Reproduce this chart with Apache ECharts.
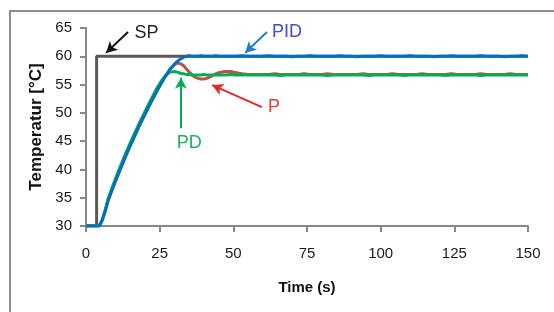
<!DOCTYPE html>
<html>
<head>
<meta charset="utf-8">
<script src="https://cdn.jsdelivr.net/npm/echarts@6/dist/echarts.min.js"></script>
<style>
  html, body { margin: 0; padding: 0; background: #fff; }
  #chart { width: 554px; height: 312px; }
</style>
</head>
<body>
<div id="chart"></div>
<script>
// setpoint step
const spTime = [0, 3.6, 3.6, 150];
const spValues = [30, 30, 60, 60];

// heating ramp (s)
const riseTime = [0, 4.5, 5.5, 6.5, 7.5, 9, 10.5, 12, 13.5, 15, 16.5, 18, 19.5, 21, 22.5, 24, 25.5, 27, 28.5, 30, 31, 32, 33, 34, 35];
const pidRise = [30, 30, 31, 32.6, 34.5, 36.6, 38.6, 40.5, 42.4, 44.2, 45.9, 47.6, 49.2, 50.8, 52.3, 53.8, 55.2, 56.5, 57.7, 58.6, 59.1, 59.5, 59.8, 60, 60.1];
const pRise = [30, 30, 31, 32.6, 34.5, 36.6, 38.6, 40.5, 42.4, 44.2, 45.9, 47.6, 49.2, 50.8, 52.3, 53.8, 55.2, 56.5, 57.7, 58.5, 58.8, 58.7, 58.4, 57.8, 57.2];
const pdRise = [30, 30, 31.1, 32.8, 34.8, 37, 39, 41, 42.9, 44.7, 46.4, 48.1, 49.7, 51.3, 52.8, 54.3, 55.6, 56.6, 57.2, 57.3, 57.2, 57.0, 56.9, 56.8, 56.8];

// settling, where P still oscillates
const settleTime = [36, 37, 38, 39, 40, 41, 42, 43, 44, 45, 47, 49, 51, 53, 55];
const pidSettle = [60.0, 60.0, 60.0, 60.1, 60.0, 60.0, 60.0, 60.0, 60.1, 60.0, 60.0, 60.0, 60.0, 60.1, 60.0];
const pSettle = [56.7, 56.3, 56.1, 56.0, 56.0, 56.1, 56.3, 56.6, 56.9, 57.1, 57.3, 57.3, 57.1, 56.9, 56.8];
const pdSettle = [56.7, 56.7, 56.7, 56.7, 56.8, 56.7, 56.7, 56.7, 56.7, 56.7, 56.7, 56.8, 56.7, 56.7, 56.7];

// steady state
const flatTime = [58, 60, 62, 64, 66, 68, 70, 72, 74, 76, 78, 80, 82, 84, 86, 88, 90, 92, 94, 96, 98, 100, 102, 104, 106, 108, 110, 112, 114, 116, 118, 120, 122, 124, 126, 128, 130, 132, 134, 136, 138, 140, 142, 144, 146, 148, 150];
const pidFlat = [60.0, 60.0, 60.1, 60.0, 60.0, 60.0, 59.9, 60.0, 60.0, 60.1,
                 60.0, 60.0, 60.0, 60.0, 60.1, 60.0, 60.0, 59.9, 60.0, 60.0,
                 60.0, 60.1, 60.0, 60.0, 60.0, 60.0, 60.1, 60.0, 60.0, 60.0,
                 59.9, 60.0, 60.0, 60.1, 60.0, 60.0, 60.0, 60.0, 60.1, 60.0,
                 60.0, 60.0, 59.9, 60.0, 60.0, 60.1, 60.0];
const pFlat = [56.8, 56.8, 56.8, 56.9, 56.8, 56.8, 56.8, 56.8, 56.9, 56.8,
               56.8, 56.8, 56.9, 56.8, 56.8, 56.8, 56.8, 56.8, 56.9, 56.8,
               56.8, 56.8, 56.8, 56.9, 56.8, 56.8, 56.8, 56.8, 56.9, 56.8,
               56.8, 56.8, 56.8, 56.9, 56.8, 56.8, 56.8, 56.8, 56.9, 56.8,
               56.8, 56.8, 56.8, 56.9, 56.8, 56.8, 56.8];
const pdFlat = [56.7, 56.7, 56.7, 56.7, 56.6, 56.7, 56.7, 56.7, 56.7, 56.7,
                56.7, 56.7, 56.6, 56.7, 56.7, 56.7, 56.7, 56.7, 56.7, 56.6,
                56.7, 56.7, 56.7, 56.7, 56.7, 56.6, 56.7, 56.7, 56.7, 56.7,
                56.7, 56.7, 56.6, 56.7, 56.7, 56.7, 56.7, 56.7, 56.6, 56.7,
                56.7, 56.7, 56.7, 56.7, 56.7, 56.7, 56.7];

function zip(t, v) {
  return t.map((x, i) => [x, v[i]]);
}

const pidData = zip(riseTime, pidRise).concat(zip(settleTime, pidSettle), zip(flatTime, pidFlat));
const pData = zip(riseTime, pRise).concat(zip(settleTime, pSettle), zip(flatTime, pFlat));
const pdData = zip(riseTime, pdRise).concat(zip(settleTime, pdSettle), zip(flatTime, pdFlat));
const spData = zip(spTime, spValues);

const FONT = 'Liberation Sans, Arial, sans-serif';

function arrow(from, to, color) {
  return {
    silent: true,
    symbol: ['none', 'arrow'],
    symbolSize: [9, 11],
    label: { show: false },
    lineStyle: { type: 'solid', color: color, width: 2 },
    data: [[{ coord: from }, { coord: to }]]
  };
}
function note(text, at, color) {
  return {
    silent: true,
    symbol: 'circle',
    symbolSize: 1,
    itemStyle: { color: 'rgba(0,0,0,0)' },
    label: { show: true, position: 'inside', formatter: text, color: color, fontSize: 18, fontFamily: FONT },
    data: [{ coord: at }]
  };
}

const chart = echarts.init(document.getElementById('chart'));
chart.setOption({
  animation: false,
  backgroundColor: '#fff',
  graphic: [{
    type: 'rect',
    shape: { x: 10, y: 11, width: 600, height: 400 },
    style: { fill: 'none', stroke: '#8f8f8f', lineWidth: 2 },
    silent: true
  }],
  grid: { left: 86, right: 26, top: 28, bottom: 86 },
  xAxis: {
    type: 'value',
    min: 0, max: 150, interval: 25,
    name: 'Time (s)',
    nameLocation: 'middle',
    nameGap: 54,
    nameTextStyle: { fontFamily: FONT, fontSize: 15, fontWeight: 'bold', color: '#111' },
    axisLine: { show: true, lineStyle: { color: '#878787', width: 2 } },
    axisTick: { show: true, length: 6, lineStyle: { color: '#878787', width: 2 } },
    axisLabel: { margin: 20, fontFamily: FONT, fontSize: 15, color: '#1a1a1a' },
    splitLine: { show: false }
  },
  yAxis: {
    type: 'value',
    min: 30, max: 65, interval: 5,
    name: 'Temperatur [°C]',
    nameLocation: 'middle',
    nameGap: 40,
    nameTextStyle: { fontFamily: FONT, fontSize: 17, fontWeight: 'bold', color: '#111' },
    axisLine: { show: true, lineStyle: { color: '#878787', width: 2 } },
    axisTick: { show: true, length: 6, lineStyle: { color: '#878787', width: 2 } },
    axisLabel: { margin: 14, fontFamily: FONT, fontSize: 15, color: '#1a1a1a' },
    splitLine: { show: false }
  },
  series: [
    {
      name: 'SP', type: 'line', data: spData, symbol: 'none',
      lineStyle: { color: '#595959', width: 3 }, itemStyle: { color: '#595959' },
      markLine: arrow([14.25, 64.3], [6.8, 60.6], '#111'),
      markPoint: note('SP', [20.5, 64.1], '#222')
    },
    {
      name: 'P', type: 'line', data: pData, symbol: 'none',
      lineStyle: { color: '#c0504d', width: 3 }, itemStyle: { color: '#c0504d' },
      markLine: arrow([59.7, 51.0], [42.8, 54.9], '#e02a2a'),
      markPoint: note('P', [63.8, 51.0], '#e03a3a')
    },
    {
      name: 'PD', type: 'line', data: pdData, symbol: 'none',
      lineStyle: { color: '#00b050', width: 3 }, itemStyle: { color: '#00b050' },
      markLine: arrow([32.2, 47.3], [32.2, 56.2], '#00b050'),
      markPoint: note('PD', [35, 44.7], '#1fb060')
    },
    {
      name: 'PID', type: 'line', data: pidData, symbol: 'none',
      lineStyle: { color: '#0070c0', width: 3 }, itemStyle: { color: '#0070c0' },
      markLine: arrow([61.4, 64.3], [54.0, 60.6], '#1f7fcf'),
      markPoint: note('PID', [68.2, 64.3], '#4646e0')
    }
  ]
});
</script>
</body>
</html>
